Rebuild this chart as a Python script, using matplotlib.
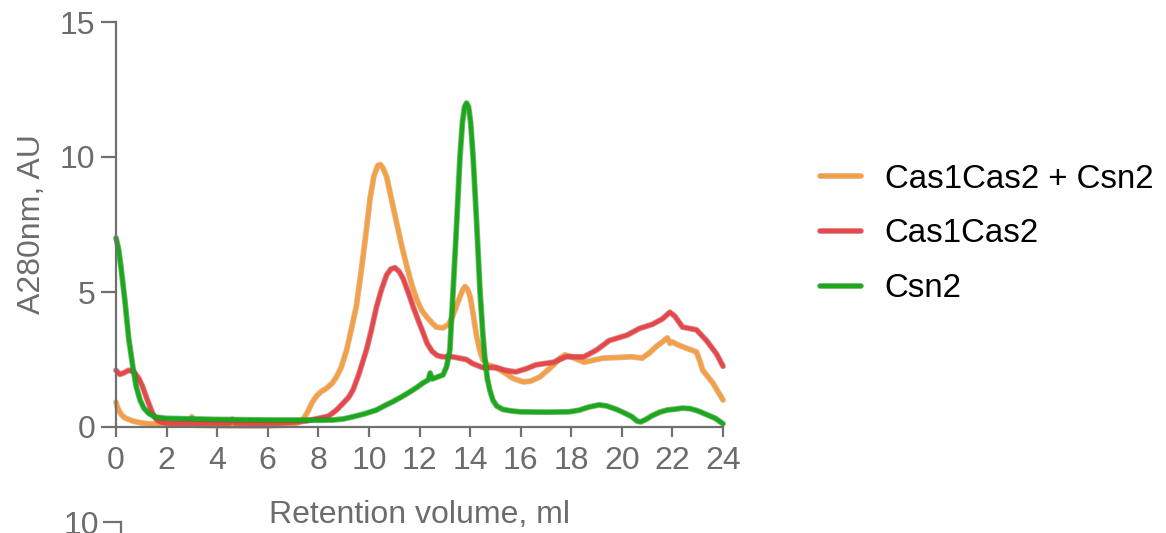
import matplotlib
matplotlib.use("Agg")
import matplotlib.pyplot as plt
import matplotlib.patheffects as pe

plt.rcParams['font.family'] = ['Liberation Sans', 'DejaVu Sans']

csn2_x = [0.0, 0.1, 0.2, 0.35, 0.5, 0.67, 0.8, 0.95, 1.1, 1.3, 1.54, 2.0, 3.0, 4.0, 5.0,
          6.0, 7.0, 8.0, 8.58, 9.0, 9.37, 9.8, 10.3, 10.6, 10.95, 11.3, 11.62, 11.9,
          12.14, 12.35, 12.42, 12.5, 12.7, 12.93, 13.07, 13.2, 13.33, 13.47, 13.6, 13.7,
          13.78, 13.86, 13.94, 14.02, 14.12, 14.26, 14.39, 14.5, 14.58, 14.68, 14.78,
          14.9, 15.05, 15.3, 15.6, 16.0, 17.0, 17.9, 18.3, 18.7, 19.1, 19.4, 19.8, 20.1,
          20.4, 20.6, 20.75, 20.95, 21.2, 21.5, 21.8, 22.1, 22.4, 22.7, 23.0, 23.4, 23.7, 24.0]
csn2_y = [7.0, 6.6, 5.9, 4.7, 3.3, 2.2, 1.5, 1.0, 0.7, 0.5, 0.37, 0.32, 0.3, 0.28, 0.27,
          0.26, 0.26, 0.25, 0.26, 0.3, 0.38, 0.48, 0.63, 0.78, 0.94, 1.12, 1.3, 1.47,
          1.63, 1.75, 2.0, 1.78, 1.85, 1.93, 2.23, 2.85, 5.07, 7.55, 10.0, 11.3,
          11.85, 12.0, 11.85, 11.3, 10.0, 7.55, 5.07, 3.5, 2.6, 1.8, 1.37,
          1.0, 0.78, 0.65, 0.6, 0.56, 0.55, 0.56, 0.62, 0.74, 0.82, 0.78, 0.65, 0.52,
          0.38, 0.22, 0.19, 0.28, 0.42, 0.55, 0.63, 0.66, 0.7, 0.68, 0.6, 0.44, 0.32, 0.12]

c12_x = [0.0, 0.15, 0.3, 0.5, 0.7, 0.9, 1.05, 1.2, 1.34, 1.45, 1.6, 1.8, 2.0, 3.0, 4.0,
         4.5, 4.6, 4.7, 5.5, 6.5, 7.5, 8.06, 8.4, 8.72, 9.0, 9.2, 9.37, 9.6, 9.9, 10.1,
         10.3, 10.5, 10.7, 10.87, 11.03, 11.2, 11.35, 11.55, 11.75, 11.95, 12.14, 12.3,
         12.5, 12.7, 12.9, 13.3, 13.85, 14.1, 14.5, 15.05, 15.4, 15.8, 16.2, 16.6, 17.3,
         17.8, 18.5, 19.0, 19.5, 20.2, 20.7, 21.2, 21.6, 21.9, 22.1, 22.4, 22.95, 23.35,
         23.75, 24.0]
c12_y = [2.1, 1.95, 2.0, 2.1, 2.05, 1.8, 1.5, 1.1, 0.76, 0.5, 0.27, 0.18, 0.15, 0.14, 0.14,
         0.15, 0.28, 0.15, 0.14, 0.15, 0.22, 0.33, 0.4, 0.63, 0.9, 1.1, 1.37, 1.95, 2.85, 3.6,
         4.45, 5.1, 5.63, 5.85, 5.9, 5.75, 5.5, 5.0, 4.45, 3.95, 3.5, 3.1,
         2.8, 2.65, 2.6, 2.6, 2.5, 2.35, 2.2, 2.2, 2.1, 2.04, 2.15, 2.3, 2.4,
         2.6, 2.6, 2.85, 3.2, 3.4, 3.65, 3.8, 4.0, 4.25, 4.1, 3.7, 3.6, 3.2,
         2.7, 2.25]

mix_x = [0.0, 0.05, 0.12, 0.22, 0.35, 0.5, 0.67, 1.0, 1.3, 2.0, 2.9, 3.0, 3.1, 4.0, 5.0,
         6.0, 7.0, 7.3, 7.45, 7.6, 7.75, 7.93, 8.1, 8.33, 8.55, 8.72, 8.9, 9.12, 9.3, 9.5,
         9.7, 9.9, 10.05, 10.2, 10.35, 10.45, 10.55, 10.7, 10.9, 11.1, 11.3, 11.5, 11.7,
         11.9, 12.1, 12.28, 12.5, 12.67, 12.93, 13.15, 13.3, 13.45, 13.6, 13.72, 13.8,
         13.9, 14.0, 14.12, 14.25, 14.38, 14.5, 14.7, 14.9, 15.3, 15.7, 16.1, 16.4, 16.75,
         17.0, 17.3, 17.55, 17.75, 18.0, 18.5, 19.25, 20.4, 20.8, 21.1, 21.35, 21.6, 21.8,
         21.9, 22.0, 22.2, 22.55, 22.95, 23.1, 23.2, 23.6, 24.0]
mix_y = [0.92, 0.75, 0.6, 0.45, 0.34, 0.28, 0.22, 0.15, 0.12, 0.08, 0.07, 0.38, 0.07, 0.05,
         0.04, 0.04, 0.08, 0.2, 0.35, 0.6, 0.9, 1.15, 1.3, 1.44, 1.62, 1.86, 2.2, 2.85, 3.6,
         4.46, 5.8, 7.3, 8.5, 9.3, 9.68, 9.72, 9.6, 9.27, 8.4, 7.55, 6.7, 5.94, 5.25,
         4.7, 4.3, 4.08, 3.85, 3.7, 3.67, 3.8, 4.08, 4.45, 4.83, 5.1, 5.2,
         5.1, 4.83, 4.2, 3.4, 2.85, 2.5, 2.3, 2.25, 2.05, 1.8, 1.67, 1.7, 1.85,
         2.05, 2.3, 2.55, 2.67, 2.6, 2.4, 2.55, 2.6, 2.55, 2.75, 2.97, 3.15, 3.3,
         3.1, 3.15, 3.05, 2.92, 2.78, 2.4, 2.1, 1.63, 1.0]

labels = ["Cas1Cas2 + Csn2", "Cas1Cas2", "Csn2"]
colors = ["#F4A046", "#E6474B", "#1CA81C"]
edges = ["#C98036", "#B83438", "#138013"]

xticks = list(range(0, 25, 2))
yticks = [0, 5, 10, 15]

# ---- figure ----
fig = plt.figure(figsize=(11.66, 5.33), dpi=100)
ax = fig.add_axes([116 / 1166, 1 - 427 / 533, 607 / 1166, 405 / 533])

gray = "#707070"
tcol = "#6c6c6c"
series = [(mix_x, mix_y), (c12_x, c12_y), (csn2_x, csn2_y)]
handles = []
for (xs, ys), lab, c, ec in zip(series, labels, colors, edges):
    ln, = ax.plot(xs, ys, color=c, lw=3.0, label=lab, solid_joinstyle='round',
                  solid_capstyle='round', clip_on=False,
                  path_effects=[pe.Stroke(linewidth=4.2, foreground=ec, alpha=0.55), pe.Normal()])
    handles.append(ln)

ax.set_xlim(0, 24)
ax.set_ylim(0, 15)
ax.set_xticks(xticks)
ax.set_yticks(yticks)
for s in ["top", "right"]:
    ax.spines[s].set_visible(False)
for s in ["left", "bottom"]:
    ax.spines[s].set_color(gray)
    ax.spines[s].set_linewidth(1.6)
ax.tick_params(axis='both', colors=gray, labelcolor=tcol, labelsize=23, width=1.6)
ax.tick_params(axis='y', length=11, pad=4)
ax.tick_params(axis='x', length=7, pad=7)
ax.set_ylabel("A280nm, AU", fontsize=23, color=tcol, labelpad=9)
ax.set_xlabel("Retention volume, ml", fontsize=23, color=tcol, labelpad=17)

leg = fig.legend(handles=handles, labels=labels, loc='center left',
                 bbox_to_anchor=(790 / 1166, 1 - 234 / 533), frameon=False,
                 fontsize=23.8, handlelength=1.25, handletextpad=0.72, labelspacing=0.72)

# partial lower panel (cut off at figure bottom)
ax2 = fig.add_axes([121 / 1166, -0.5, 0.3, 0.5 + 11 / 533])
ax2.set_ylim(0, 10)
ax2.set_yticks([10])
ax2.set_xticks([])
for s in ["top", "right", "bottom"]:
    ax2.spines[s].set_visible(False)
ax2.spines["left"].set_color(gray)
ax2.spines["left"].set_linewidth(1.6)
ax2.tick_params(axis='y', colors=gray, labelcolor=tcol, labelsize=23, width=1.6, length=13, pad=3)
ax2.patch.set_visible(False)

fig.savefig("out.png", dpi=100)
